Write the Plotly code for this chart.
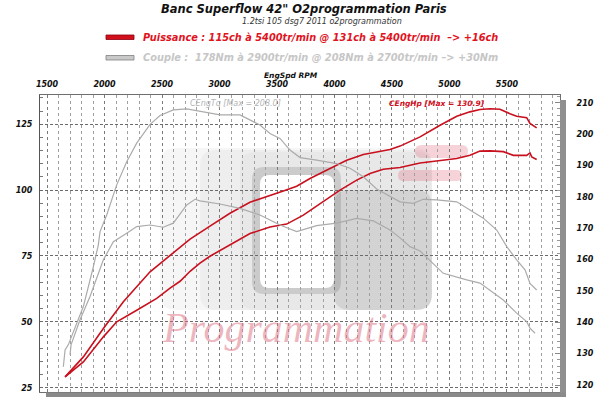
import plotly.graph_objects as go

# ---------------- data ----------------
rpm_ticks = [1500, 2000, 2500, 3000, 3500, 4000, 4500, 5000, 5500]

# Power after tuning (ch) - left axis
rpm_hp_after = [1657, 1816, 1990, 2164, 2396, 2570, 2744, 2917, 3091, 3265, 3381,
                3555, 3671, 3787, 3961, 4106, 4251, 4367, 4483, 4570, 4744, 4918,
                5063, 5178, 5265, 5352, 5439, 5526, 5584, 5671, 5700, 5758]
hp_after = [29.1, 36.7, 47.5, 57.6, 69.0, 75.3, 81.4, 86.3, 91.2, 95.4, 97.0,
            99.7, 101.5, 104.4, 108.2, 111.3, 113.5, 114.5, 115.4, 116.7, 120.2, 124.6,
            128.0, 129.7, 130.6, 130.9, 130.7, 129.0, 128.0, 127.5, 125.3, 123.6]

# Power before tuning (ch) - left axis
rpm_hp_before = [1657, 1816, 1990, 2106, 2280, 2454, 2570, 2657, 2744, 2830, 2917,
                 3091, 3265, 3439, 3584, 3729, 3903, 4048, 4193, 4309, 4424, 4570,
                 4744, 4918, 5063, 5178, 5265, 5352, 5468, 5555, 5671, 5700, 5715, 5758]
hp_before = [29.1, 34.8, 44.3, 50.0, 54.4, 58.9, 62.8, 65.4, 69.2, 72.3, 74.9,
             79.1, 83.5, 86.0, 87.1, 90.5, 95.5, 100.0, 103.8, 106.3, 107.9, 108.6,
             110.3, 111.1, 112.0, 113.2, 114.8, 114.9, 114.6, 113.2, 113.2, 114.1, 112.6, 111.6]

# Torque after tuning (Nm) - right axis
rpm_tq_after = [1642, 1657, 1685, 1816, 1903, 1946, 1961, 2019, 2106, 2193, 2280,
                2396, 2483, 2598, 2715, 2802, 2830, 3004, 3178, 3265, 3352, 3439,
                3526, 3613, 3700, 3845, 4019, 4135, 4251, 4367, 4483, 4570, 4685,
                4772, 4889, 5063, 5178, 5294, 5411, 5498, 5584, 5657, 5700, 5758]
tq_after = [125.8, 131.2, 132.8, 145.0, 157.7, 164.6, 168.9, 174.2, 183.8, 191.2, 197.1,
            203.1, 205.9, 207.7, 208.0, 207.4, 207.1, 206.1, 206.1, 204.5, 202.9, 200.2,
            198.6, 194.9, 192.5, 191.7, 190.6, 189.1, 186.4, 182.5, 180.0, 178.4, 177.9,
            179.2, 179.0, 178.4, 175.8, 173.2, 169.4, 164.1, 159.9, 156.7, 152.4, 150.3]

# Torque before tuning (Nm) - right axis
rpm_tq_before = [1700, 1709, 1787, 1874, 1990, 2033, 2077, 2193, 2280, 2396, 2511,
                 2598, 2715, 2787, 2830, 3004, 3178, 3352, 3526, 3671, 3845, 4019,
                 4193, 4338, 4483, 4570, 4657, 4744, 4946, 5150, 5265, 5468, 5584,
                 5671, 5700, 5744]
tq_before = [129.6, 132.8, 140.8, 148.2, 159.9, 163.0, 165.7, 168.4, 170.5, 171.0, 170.3,
             171.6, 177.4, 179.2, 178.7, 177.7, 176.3, 174.2, 171.0, 168.9, 170.8, 171.6,
             173.1, 172.3, 169.4, 166.9, 164.1, 162.7, 155.6, 153.5, 152.5, 147.1, 142.9,
             140.2, 138.1, 136.5]

title_text = 'Banc Superflow 42" O2programmation Paris'
subtitle_text = '1.2tsi 105 dsg7 2011 o2programmation'
legend_power = 'Puissance : 115ch à 5400tr/min @ 131ch à 5400tr/min  –> +16ch'
legend_torque = 'Couple :  178Nm à 2900tr/min @ 208Nm à 2700tr/min –> +30Nm'
x_title = 'EngSpd RPM'
tq_max_label = 'CEngTq [Max = 208.0]'
hp_max_label = 'CEngHp [Max = 130.9]'
watermark = 'Programmation'

# ---------------- layout helpers (pixel -> paper) ----------------
W, H = 600, 397
L, R, T, B = 40, 40, 95, 5


def PX(x):
    return (x - L) / (W - L - R)


def PY(y):
    return (H - B - y) / (H - T - B)


def rrect(x0, y0, x1, y1, r):
    p = lambda x, y: f"{PX(x):.4f},{PY(y):.4f}"
    return (f"M {p(x0 + r, y0)} L {p(x1 - r, y0)} Q {p(x1, y0)} {p(x1, y0 + r)} "
            f"L {p(x1, y1 - r)} Q {p(x1, y1)} {p(x1 - r, y1)} L {p(x0 + r, y1)} "
            f"Q {p(x0, y1)} {p(x0, y1 - r)} L {p(x0, y0 + r)} Q {p(x0, y0)} {p(x0 + r, y0)} Z")


FONT = "DejaVu Sans"
BI = dict(family=FONT, weight="bold", style="italic")

fig = go.Figure()

gray = "#ababab"
red = "#c8101e"
fig.add_trace(go.Scatter(x=rpm_tq_before, y=tq_before, yaxis="y2", mode="lines",
                         line=dict(color=gray, width=1.2), showlegend=False))
fig.add_trace(go.Scatter(x=rpm_tq_after, y=tq_after, yaxis="y2", mode="lines",
                         line=dict(color=gray, width=1.2), showlegend=False))
fig.add_trace(go.Scatter(x=rpm_hp_before, y=hp_before, mode="lines",
                         line=dict(color=red, width=1.6), showlegend=False))
fig.add_trace(go.Scatter(x=rpm_hp_after, y=hp_after, mode="lines",
                         line=dict(color=red, width=1.6), showlegend=False))

shapes = []
# watermark logo (decor)
shapes.append(dict(type="path", path=rrect(160, 148, 432, 310, 16), xref="paper", yref="paper",
                   fillcolor="rgba(0,0,0,0.035)", line=dict(width=0), layer="below"))
shapes.append(dict(type="path", path=rrect(200, 150, 432, 310, 16), xref="paper", yref="paper",
                   fillcolor="rgba(0,0,0,0.03)", line=dict(width=0), layer="below"))
shapes.append(dict(type="path", path=rrect(240, 152, 432, 310, 16), xref="paper", yref="paper",
                   fillcolor="rgba(0,0,0,0.025)", line=dict(width=0), layer="below"))
shapes.append(dict(type="path", path=rrect(334, 190, 432, 310, 16), xref="paper", yref="paper",
                   fillcolor="rgba(0,0,0,0.09)", line=dict(width=0), layer="below"))
shapes.append(dict(type="path", path=rrect(252, 167, 341, 294, 12), xref="paper", yref="paper",
                   fillcolor="rgba(0,0,0,0.12)", line=dict(width=0), layer="below"))
shapes.append(dict(type="path", path=rrect(260, 175, 334, 288, 9), xref="paper", yref="paper",
                   fillcolor="white", line=dict(width=0), layer="below"))
# pink splash
shapes.append(dict(type="path", path=rrect(415, 145, 468, 158, 6.5), xref="paper", yref="paper",
                   fillcolor="rgba(226,110,125,0.30)", line=dict(width=0), layer="below"))
shapes.append(dict(type="path", path=rrect(398, 170, 462, 181, 5.5), xref="paper", yref="paper",
                   fillcolor="rgba(226,110,125,0.30)", line=dict(width=0), layer="below"))
# frame shadows
shapes.append(dict(type="rect", xref="paper", yref="paper", x0=PX(560), x1=PX(566),
                   y0=PY(397), y1=PY(100), fillcolor="#8f8f8f", line=dict(width=0), layer="above"))
shapes.append(dict(type="rect", xref="paper", yref="paper", x0=PX(46), x1=PX(566),
                   y0=PY(397), y1=PY(392.5), fillcolor="#8a8a8a", line=dict(width=0), layer="above"))
# legend swatches
shapes.append(dict(type="rect", xref="paper", yref="paper", x0=PX(106), x1=PX(134),
                   y0=PY(39.5), y1=PY(35), fillcolor="#d20f1c", line=dict(color="#8a0010", width=0.8)))
shapes.append(dict(type="rect", xref="paper", yref="paper", x0=PX(106), x1=PX(134),
                   y0=PY(60), y1=PY(55.5), fillcolor="#c9c9c9", line=dict(color="#808080", width=0.8)))

ann = []
ann.append(dict(text=title_text, x=PX(304), y=PY(9), xref="paper", yref="paper",
                xanchor="center", yanchor="middle", showarrow=False,
                font=dict(BI, size=11.5, color="#111111")))
ann.append(dict(text=subtitle_text, x=PX(322), y=PY(21), xref="paper", yref="paper",
                xanchor="center", yanchor="middle", showarrow=False,
                font=dict(family=FONT, style="italic", size=8, color="#333333")))
ann.append(dict(text=legend_power, x=PX(141), y=PY(37), xref="paper", yref="paper",
                xanchor="left", yanchor="middle", showarrow=False,
                font=dict(BI, size=9.8, color="#e0141f")))
ann.append(dict(text=legend_torque, x=PX(141), y=PY(57.5), xref="paper", yref="paper",
                xanchor="left", yanchor="middle", showarrow=False,
                font=dict(BI, size=9.8, color="#c6c6c6")))
ann.append(dict(text=x_title, x=PX(291), y=PY(75), xref="paper", yref="paper",
                xanchor="center", yanchor="middle", showarrow=False,
                font=dict(BI, size=7.5, color="#111111")))
ann.append(dict(text=tq_max_label, x=PX(188), y=PY(103.5), xref="paper", yref="paper",
                xanchor="left", yanchor="middle", showarrow=False,
                font=dict(family=FONT, style="italic", size=8, color="#b4b4b4")))
ann.append(dict(text=hp_max_label, x=PX(387), y=PY(103.5), xref="paper", yref="paper",
                xanchor="left", yanchor="middle", showarrow=False,
                font=dict(BI, size=7.5, color="#d0101e")))
ann.append(dict(text=watermark, x=PX(296), y=PY(328), xref="paper", yref="paper",
                xanchor="center", yanchor="middle", showarrow=False,
                font=dict(family="Liberation Serif", style="italic", size=42,
                          color="rgba(220,110,128,0.5)")))

fig.update_layout(
    width=W, height=H, autosize=False,
    margin=dict(l=L, r=R, t=T, b=B, pad=0),
    paper_bgcolor="white", plot_bgcolor="white",
    shapes=shapes, annotations=ann, showlegend=False,
    xaxis=dict(range=[1439, 5961], side="top", tickmode="array", tickvals=rpm_ticks,
               ticktext=[str(v) for v in rpm_ticks], ticks="", ticklabelstandoff=4,
               tickfont=dict(BI, size=8, color="#111111"),
               showgrid=True, gridcolor="#7a7a7a", griddash="dot", gridwidth=1,
               minor=dict(tickmode="linear", tick0=1500, dtick=100, showgrid=True,
                          gridcolor="#a0a0a0", griddash="dot", gridwidth=1),
               showline=True, linecolor="#6e6e6e", linewidth=1, mirror=True,
               zeroline=False, fixedrange=True),
    yaxis=dict(range=[23.37, 136.1], tickmode="linear", tick0=25, dtick=25,
               ticks="", ticklabelstandoff=5, tickfont=dict(BI, size=8, color="#111111"),
               showgrid=True, gridcolor="#6a6a6a", griddash="3px,2px", gridwidth=1,
               minor=dict(tickmode="linear", tick0=25, dtick=5, ticks="inside",
                          ticklen=3, tickcolor="#777777", showgrid=False),
               showline=True, linecolor="#555555", linewidth=1, mirror=False,
               zeroline=False, fixedrange=True),
    yaxis2=dict(range=[117.77, 212.45], overlaying="y", side="right", anchor="x",
                tickmode="linear", tick0=120, dtick=10, ticks="inside", ticklen=5,
                tickcolor="#888888", ticklabelstandoff=14,
                tickfont=dict(BI, size=8, color="#111111"), showgrid=False,
                minor=dict(tickmode="linear", tick0=120, dtick=2, ticks="inside",
                           ticklen=3, tickcolor="#999999"),
                showline=True, linecolor="#6e6e6e", linewidth=1,
                zeroline=False, fixedrange=True),
)

fig.write_html("out.html")
